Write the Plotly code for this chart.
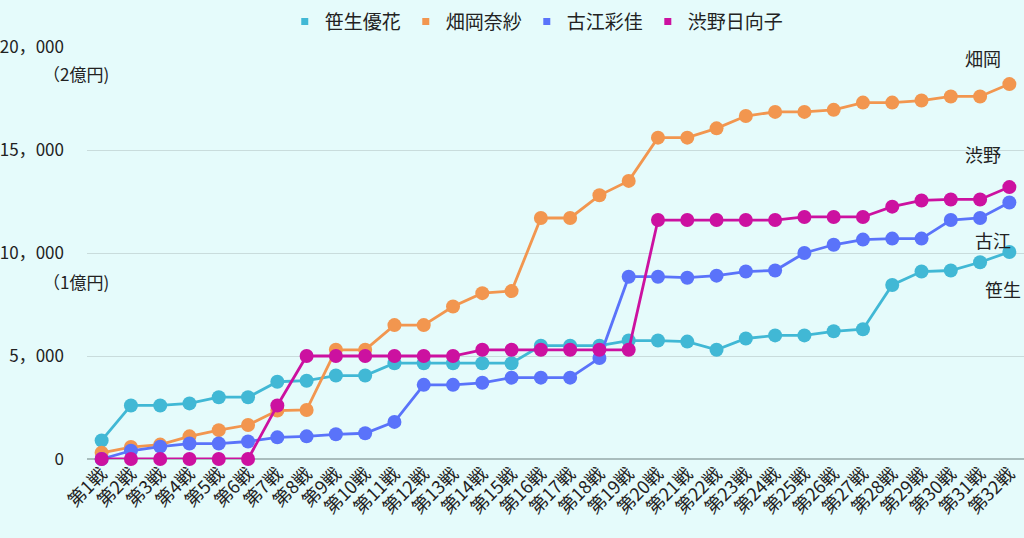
import plotly.graph_objects as go

rounds = ['第%d戦' % i for i in range(1, 33)]

sasou = [900, 2600, 2600, 2700, 3000, 3000, 3750, 3800, 4050, 4050,
         4650, 4650, 4650, 4650, 4650, 5500, 5500, 5500, 5750, 5750,
         5700, 5300, 5850, 6000, 6000, 6200, 6300, 8450, 9100, 9150,
         9550, 10050]
hataoka = [300, 580, 700, 1100, 1400, 1650, 2350, 2380, 5300, 5300,
           6500, 6500, 7400, 8050, 8150, 11700, 11700, 12800, 13500, 15600,
           15600, 16050, 16650, 16850, 16850, 16950, 17300, 17300, 17400, 17600,
           17600, 18200]
furue = [0, 400, 600, 750, 750, 850, 1050, 1100, 1200, 1250,
         1800, 3600, 3600, 3700, 3950, 3950, 3950, 4900, 8850, 8850,
         8800, 8900, 9100, 9150, 10000, 10400, 10650, 10700, 10700, 11600,
         11700, 12450]
shibuno = [0, 0, 0, 0, 0, 0, 2600, 5000, 5000, 5000,
           5000, 5000, 5000, 5300, 5300, 5300, 5300, 5300, 5300, 11600,
           11600, 11600, 11600, 11600, 11750, 11750, 11750, 12250, 12550, 12600,
           12600, 13200]

names = ['笹生優花', '畑岡奈紗', '古江彩佳', '渋野日向子']
colors = ['#41B8D5', '#F2964F', '#5A73FA', '#CC11A0']
series = [sasou, hataoka, furue, shibuno]

end_labels = ['笹生', '畑岡', '古江', '渋野']
end_label_y = [8100, 19340, 10470, 14640]
end_label_shift = [9, -11, -1, -11]

ytick_vals = [0, 5000, 10000, 15000, 20000]
ytick_text = ['0', '5，000', '10，000', '15，000', '20，000']

FONT = 'Noto Sans CJK JP'

fig = go.Figure()

for name, color, vals in zip(names, colors, series):
    fig.add_trace(go.Scatter(
        x=rounds, y=vals, mode='lines+markers', name=name,
        line=dict(color=color, width=2.8),
        marker=dict(color=color, size=14),
        cliponaxis=False, showlegend=False,
    ))

# legend entries with small square keys
for name, color in zip(names, colors):
    fig.add_trace(go.Scatter(
        x=[None], y=[None], mode='markers', name=name,
        marker=dict(color=color, size=7, symbol='square'),
    ))

for lab, yv, sh in zip(end_labels, end_label_y, end_label_shift):
    fig.add_annotation(x=rounds[-1], y=yv, text=lab, showarrow=False,
                       xanchor='right', xshift=sh + 5, yshift=3,
                       font=dict(size=18, color='#222'))

fig.add_annotation(xref='paper', yref='y', x=0, y=20000, text='（2億円)',
                   showarrow=False, xanchor='right', xshift=24, yshift=-26,
                   font=dict(size=17, color='#222'))
fig.add_annotation(xref='paper', yref='y', x=0, y=10000, text='（1億円)',
                   showarrow=False, xanchor='right', xshift=24, yshift=-28,
                   font=dict(size=17, color='#222'))

fig.update_layout(
    width=1024, height=538,
    paper_bgcolor='#E5FBFB', plot_bgcolor='#E5FBFB',
    font=dict(family=FONT, color='#222'),
    margin=dict(l=87, r=0, t=47, b=79, autoexpand=False),
    legend=dict(orientation='h', x=0.48, xanchor='center', y=0.995, yanchor='top',
                yref='container', font=dict(size=19), itemwidth=30,
                bgcolor='rgba(0,0,0,0)'),
    xaxis=dict(type='category', range=[-0.5, 31.5], tickangle=-45,
               tickfont=dict(size=18), showgrid=False, showline=False,
               zeroline=False, ticks=''),
    yaxis=dict(range=[0, 20000], tickvals=ytick_vals, ticktext=ytick_text,
               tickfont=dict(size=17), gridcolor='#C9DCDC', gridwidth=1,
               zeroline=True, zerolinecolor='#A9BDBD', zerolinewidth=1.5,
               ticklabelstandoff=22),
)

fig.write_html('out.html', config={'displayModeBar': False},
               post_script="document.body.style.margin='0';")
